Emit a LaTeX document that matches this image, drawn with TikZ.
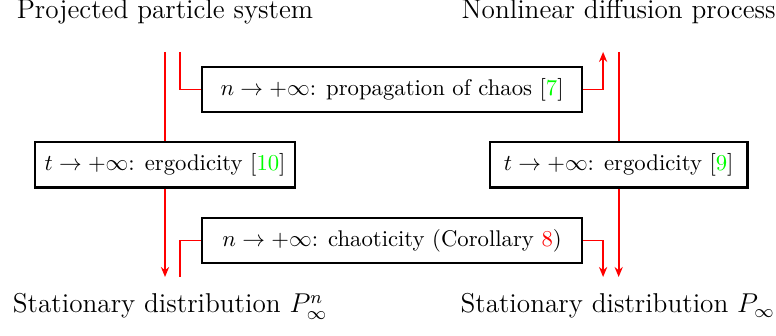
\documentclass[tikz,border=0pt]{standalone}
\usetikzlibrary{arrows.meta,positioning}
\definecolor{citegreen}{rgb}{0,1,0}
\definecolor{citered}{rgb}{1,0,0}

\begin{document}
\begin{tikzpicture}[
    flow/.style={red, line width=0.8pt},
    limbox/.style={draw, line width=1pt, fill=white, inner xsep=4.3pt, minimum height=0.7cm},
    sidebox/.style={limbox, minimum width=3.99cm},
    widebox/.style={limbox, minimum width=5.88cm},
    title/.style={font=\large, inner sep=0pt, anchor=base}
]
    \useasboundingbox (0,0) rectangle (12.01,5.20);

    % the four states
    \node[title] (psys) at (2.554,4.907) {Projected particle system};
    \node[title] (ndiff) at (9.575,4.907) {Nonlinear diffusion process};
    \node[title] (pinfn) at (2.632,0.356) {Stationary distribution $P^n_\infty$};
    \node[title] (pinf) at (9.56,0.356) {Stationary distribution $P_\infty$};

    % the limits
    \node[widebox] (chaos) at (6.068,3.816) {$n \to +\infty$: propagation of chaos [{\color{citegreen}7}]};
    \node[widebox] (chaot) at (6.068,1.478) {$n \to +\infty$: chaoticity (Corollary {\color{citered}8})};
    \node[sidebox] (ergl) at (2.554,2.647) {$t \to +\infty$: ergodicity [{\color{citegreen}10}]};
    \node[sidebox] (ergr) at (9.575,2.647) {$t \to +\infty$: ergodicity [{\color{citegreen}9}]};

    % ends of the red lines
    \coordinate (lt) at (2.554,4.396);
    \coordinate (lb) at (2.554,0.913);
    \coordinate (lst) at (2.786,4.396);
    \coordinate (lsb) at (2.786,0.913);
    \coordinate (rst) at (9.334,4.396);
    \coordinate (rsb) at (9.334,0.913);
    \coordinate (rt) at (9.575,4.396);
    \coordinate (rb) at (9.575,0.913);

    \draw[flow, -{Stealth[length=4.4pt,width=3.6pt]}] (lt) -- (ergl) -- (lb);
    \draw[flow, -{Stealth[length=4.4pt,width=3.6pt]}] (rt) -- (ergr) -- (rb);

    \draw[flow] (lst) |- (chaos);
    \draw[flow, -{Stealth[length=4.4pt,width=3.6pt]}] (chaos) -| (rst);

    \draw[flow] (chaot) -| (lsb);
    \draw[flow, -{Stealth[length=4.4pt,width=3.6pt]}] (chaot) -| (rsb);
\end{tikzpicture}
\end{document}
